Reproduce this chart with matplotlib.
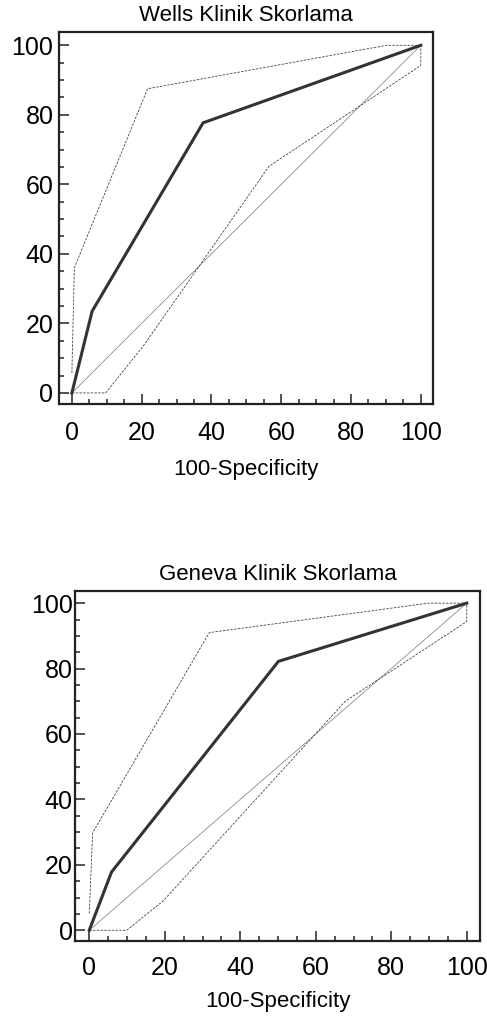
import matplotlib.pyplot as plt
from matplotlib.ticker import MultipleLocator

plt.rcParams['font.family'] = ['Liberation Sans', 'DejaVu Sans']

# Wells
wells_x = [0, 5.8, 37.6, 100]
wells_y = [0, 23.5, 77.7, 100]
wells_up_x = [0, 0.7, 21.7, 90.2, 100]
wells_up_y = [5.7, 36, 87.5, 100, 100]
wells_lo_x = [0, 9.7, 20.4, 56.5, 100, 100]
wells_lo_y = [0, 0, 13.4, 65.2, 94.2, 100]

# Geneva
gen_x = [0, 5.9, 50.1, 100]
gen_y = [0, 17.8, 82.2, 100]
gen_up_x = [0, 0.9, 31.8, 89.9, 100]
gen_up_y = [5.1, 29.8, 91, 100, 100]
gen_lo_x = [0, 9.9, 19.6, 67.8, 100, 100]
gen_lo_y = [0, 0, 9, 70, 94.4, 100]

diag = [0, 100]
ticks = [0, 20, 40, 60, 80, 100]

fig = plt.figure(figsize=(4.87, 10.19), dpi=100)
ax1 = fig.add_axes([0.1211, 0.6035, 0.768, 0.365])
ax2 = fig.add_axes([0.1546, 0.0768, 0.831, 0.3435])

# axes, title, data..., x tick pad, y tick pad, xlabel pad
panels = [
    (ax1, "Wells Klinik Skorlama", wells_x, wells_y, wells_up_x, wells_up_y, wells_lo_x, wells_lo_y, 12, 4, 10),
    (ax2, "Geneva Klinik Skorlama", gen_x, gen_y, gen_up_x, gen_up_y, gen_lo_x, gen_lo_y, 11, 2, 8),
]

for ax, title, x, y, ux, uy, lx, ly, xpad, ypad, lpad in panels:
    ax.plot(diag, diag, color='#777777', lw=0.5)
    ax.plot(ux, uy, color='#444444', lw=0.6, ls=(0, (3, 1.5)))
    ax.plot(lx, ly, color='#444444', lw=0.6, ls=(0, (3, 1.5)))
    ax.plot(x, y, color='#333333', lw=2.2, solid_joinstyle='miter')
    ax.set_xlim(-3.7, 103.5)
    ax.set_ylim(-3.2, 103.8)
    ax.set_xticks(ticks)
    ax.set_yticks(ticks)
    ax.xaxis.set_minor_locator(MultipleLocator(5))
    ax.yaxis.set_minor_locator(MultipleLocator(5))
    ax.tick_params(which='both', direction='in', color='#222222', width=1.1,
                   labelsize=18, top=False, right=False)
    ax.tick_params(which='major', length=7.5)
    ax.tick_params(which='minor', length=3.8)
    ax.tick_params(axis='x', which='major', pad=xpad)
    ax.tick_params(axis='y', which='major', pad=ypad)
    for s in ax.spines.values():
        s.set_linewidth(1.6)
        s.set_color('#222222')
    ax.set_title(title, fontsize=16, pad=8)
    ax.set_xlabel("100-Specificity", fontsize=16, labelpad=lpad)

fig.savefig("out.png", dpi=100)
